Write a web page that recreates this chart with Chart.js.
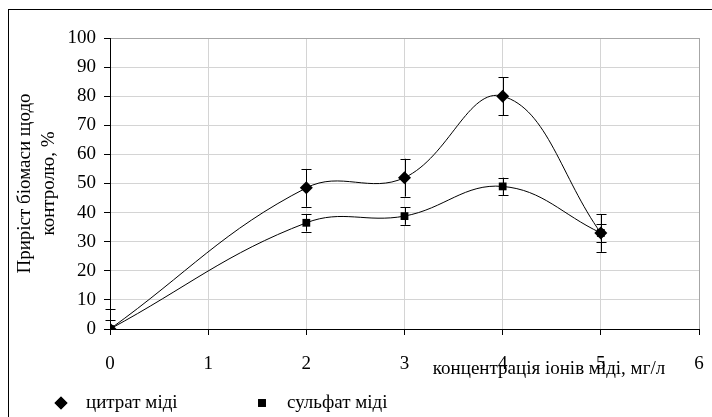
<!DOCTYPE html>
<html lang="uk">
<head>
  <meta charset="UTF-8" />
  <title>Приріст біомаси</title>
  <script src="https://cdn.jsdelivr.net/npm/chart.js"></script>
  <style>
    body {
      margin: 0;
      background-color: #ffffff;
    }
    .wrap {
      position: relative;
      width: 712px;
      height: 417px;
    }
  </style>
</head>
<body>

<div class="wrap">
  <canvas id="growthChart" width="712" height="417"></canvas>
</div>

<script>
// concentration of copper ions, mg/l
const conc = [0, 2, 3, 4, 5];
// biomass growth relative to control, %
const citrate = [0, 48.5, 52, 80, 33];
const citrateErr = [7, 6.5, 6.5, 6.5, 6.5];
const sulfate = [0, 36.5, 38.8, 49, 33];
const sulfateErr = [3, 3, 3, 3, 3];

const seriesNames = ['цитрат міді', 'сульфат міді'];
const yTitle = ['Приріст біомаси щодо', 'контролю, %'];
const xTitle = 'концентрація іонів міді, мг/л';

const FONT = "'Liberation Serif', 'Times New Roman', serif";

function toPoints(values) {
  return conc.map((c, i) => ({ x: c, y: values[i] }));
}

// outer frame of the picture
const framePlugin = {
  id: 'frame',
  beforeDraw(chart) {
    const ctx = chart.ctx;
    ctx.save();
    ctx.fillStyle = '#ffffff';
    ctx.fillRect(0, 0, chart.width, chart.height);
    ctx.strokeStyle = '#000';
    ctx.lineWidth = 1;
    ctx.strokeRect(8.5, 9.5, chart.width + 20, chart.height + 20);
    ctx.restore();
  }
};

// vertical error bars with caps
const errorBarPlugin = {
  id: 'errorBars',
  beforeDatasetsDraw(chart) {
    const ctx = chart.ctx;
    const xs = chart.scales.x, ys = chart.scales.y;
    const sets = [[citrate, citrateErr], [sulfate, sulfateErr]];
    ctx.save();
    ctx.strokeStyle = '#000';
    ctx.lineWidth = 1;
    sets.forEach(([vals, errs]) => {
      vals.forEach((v, i) => {
        const px = Math.round(xs.getPixelForValue(conc[i])) + 0.5;
        const top = ys.getPixelForValue(v + errs[i]);
        const bot = ys.getPixelForValue(Math.max(v - errs[i], ys.min));
        ctx.beginPath();
        ctx.moveTo(px, top);
        ctx.lineTo(px, bot);
        ctx.moveTo(px - 5, Math.round(top) + 0.5);
        ctx.lineTo(px + 5, Math.round(top) + 0.5);
        if (v - errs[i] >= ys.min) {
          ctx.moveTo(px - 5, Math.round(bot) + 0.5);
          ctx.lineTo(px + 5, Math.round(bot) + 0.5);
        }
        ctx.stroke();
      });
    });
    ctx.restore();
  }
};

// x title and legend below the axis
const textPlugin = {
  id: 'extraText',
  afterDraw(chart) {
    const ctx = chart.ctx;
    const area = chart.chartArea;
    ctx.save();
    ctx.fillStyle = '#000';
    ctx.font = '19px ' + FONT;
    ctx.textBaseline = 'middle';
    ctx.textAlign = 'center';
    ctx.fillText(xTitle, area.right - 150, area.bottom + 40);

    ctx.textAlign = 'left';
    const legendY = area.bottom + 74;
    const legendX = [area.left - 49, area.left + 152];
    chart.data.datasets.forEach((ds, i) => {
      Chart.helpers.drawPoint(ctx, {
        pointStyle: ds.pointStyle,
        radius: ds.pointRadius,
        borderWidth: 0
      }, legendX[i], legendY);
      ctx.fillStyle = '#000';
      ctx.fill();
      ctx.fillText(ds.label, legendX[i] + 25, legendY);
    });
    ctx.restore();
  }
};

const ctx = document.getElementById('growthChart').getContext('2d');
const growthChart = new Chart(ctx, {
  type: 'line',
  data: {
    datasets: [{
      label: seriesNames[0],
      data: toPoints(citrate),
      borderColor: '#000',
      backgroundColor: '#000',
      borderWidth: 1,
      tension: 0.4,
      pointStyle: 'rectRot',
      pointRadius: 6.5,
      pointBorderWidth: 0
    }, {
      label: seriesNames[1],
      data: toPoints(sulfate),
      borderColor: '#000',
      backgroundColor: '#000',
      borderWidth: 1,
      tension: 0.4,
      pointStyle: 'rect',
      pointRadius: 5.5,
      pointBorderWidth: 0
    }]
  },
  options: {
    responsive: false,
    animation: false,
    layout: {
      padding: { left: 0, right: 13, top: 38, bottom: 0 }
    },
    plugins: {
      legend: { display: false },
      tooltip: { enabled: false }
    },
    scales: {
      x: {
        type: 'linear',
        min: 0,
        max: 6,
        ticks: {
          stepSize: 1,
          color: '#000',
          padding: 18,
          font: { family: FONT, size: 19 }
        },
        grid: {
          color: (c) => c.tick && c.tick.value === 6 ? '#a6a6a6' : '#d4d4d4',
          tickColor: '#000',
          tickLength: 6,
          lineWidth: 1
        },
        border: { color: '#000' },
        afterFit: (scale) => {
          scale.height = 88;
          scale.paddingLeft = 0;
          scale.paddingRight = 0;
        }
      },
      y: {
        min: 0,
        max: 100,
        ticks: {
          stepSize: 10,
          color: '#000',
          padding: 8,
          font: { family: FONT, size: 19 }
        },
        grid: {
          color: (c) => c.tick && c.tick.value === 100 ? '#a6a6a6' : '#d4d4d4',
          tickColor: '#000',
          tickLength: 6,
          lineWidth: 1
        },
        border: { color: '#000' },
        title: {
          display: true,
          text: yTitle,
          color: '#000',
          padding: { top: 13, bottom: 0 },
          font: { family: FONT, size: 19, lineHeight: 1.25 }
        },
        afterFit: (scale) => {
          scale.width = 110;
          scale.paddingTop = 0;
          scale.paddingBottom = 0;
        }
      }
    }
  },
  plugins: [framePlugin, errorBarPlugin, textPlugin]
});
</script>

</body>
</html>
